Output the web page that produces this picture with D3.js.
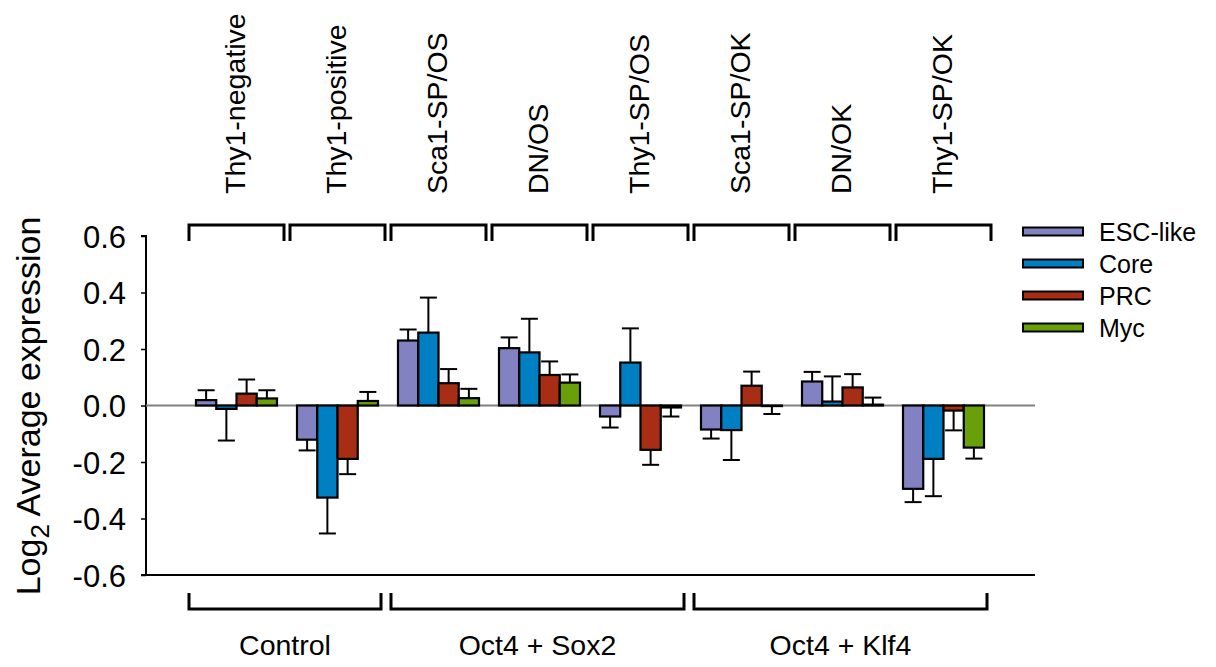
<!DOCTYPE html>
<html>
<head>
<meta charset="utf-8">
<script src="https://cdn.jsdelivr.net/npm/d3@7"></script>
<style>
    body { margin: 0; background: #fff; }
    text { font-family: "Liberation Sans", Arial, sans-serif; fill: #000; }
</style>
</head>
<body>
<svg class="chart" width="1216" height="667"></svg>
<script>

var groups = ["Thy1-negative", "Thy1-positive", "Sca1-SP/OS", "DN/OS", "Thy1-SP/OS", "Sca1-SP/OK", "DN/OK", "Thy1-SP/OK"];
var treatments = ["Control", "Oct4 + Sox2", "Oct4 + Klf4"];
var treatmentSize = [2, 3, 3];
var seriesNames = ["ESC-like", "Core", "PRC", "Myc"];
var seriesColors = ["#8282c2", "#007fc2", "#a72d14", "#69a00a"];

var esc = [0.019, -0.121, 0.230, 0.203, -0.039, -0.085, 0.085, -0.295];
var escErr = [0.035, 0.038, 0.039, 0.038, 0.039, 0.032, 0.034, 0.047];
var core = [-0.012, -0.326, 0.258, 0.188, 0.152, -0.087, 0.014, -0.189];
var coreErr = [0.112, 0.127, 0.124, 0.119, 0.121, 0.106, 0.089, 0.132];
var prc = [0.042, -0.189, 0.079, 0.108, -0.157, 0.070, 0.064, -0.018];
var prcErr = [0.050, 0.054, 0.050, 0.048, 0.053, 0.050, 0.047, 0.070];
var myc = [0.025, 0.016, 0.026, 0.081, -0.007, -0.002, 0.003, -0.149];
var mycErr = [0.029, 0.032, 0.033, 0.029, 0.032, 0.028, 0.025, 0.039];

var yTicks = [-0.6, -0.4, -0.2, 0.0, 0.2, 0.4, 0.6];

var values = [esc, core, prc, myc];
var errors = [escErr, coreErr, prcErr, mycErr];

var rows = [];
groups.forEach(function(g, i) {
    seriesNames.forEach(function(s, j) {
        rows.push({group: g, series: s, index: j, value: values[j][i], err: errors[j][i]});
    });
});

var svg = d3.select(".chart");

var axisLeft = 146;
var axisRight = 1035;

var x0 = d3.scaleBand().domain(groups).range([186, 994]);
var x1 = d3.scaleBand().domain(seriesNames).range([10, x0.bandwidth() - 10]);
var y = d3.scaleLinear().domain([-0.6, 0.6]).range([575, 236]);
var color = d3.scaleOrdinal().domain(seriesNames).range(seriesColors);

// y axis
var yAxis = svg.append("g").attr("transform", "translate(" + axisLeft + ",0)")
    .call(d3.axisLeft(y).tickValues(yTicks).tickSize(5).tickPadding(15).tickFormat(d3.format(".1f")));
yAxis.select(".domain").attr("stroke", "#000").attr("stroke-width", 2).attr("d", "M-5," + y(0.6) + "H0V" + y(-0.6) + "H-5");
yAxis.selectAll(".tick line").attr("stroke", "#000").attr("stroke-width", 1.5);
yAxis.selectAll(".tick text").attr("font-family", null).style("font-size", "31px").attr("dy", "0.36em").text(function(d) {
    return d3.format(".1f")(d).replace("−", "-");
});

// bottom line
svg.append("line").attr("x1", axisLeft).attr("x2", axisRight).attr("y1", y(-0.6)).attr("y2", y(-0.6))
    .attr("stroke", "#000").attr("stroke-width", 2);

// zero line
svg.append("line").attr("x1", axisLeft).attr("x2", axisRight).attr("y1", y(0)).attr("y2", y(0))
    .attr("stroke", "#808080").attr("stroke-width", 2);

// bars
var bar = svg.append("g").selectAll("g").data(rows).enter().append("g").attr("transform", function(d) {
    return "translate(" + (x0(d.group) + x1(d.series)) + ",0)";
});

bar.append("line").attr("x1", x1.bandwidth() / 2).attr("x2", x1.bandwidth() / 2).attr("y1", function(d) {
    return y(d.value);
}).attr("y2", function(d) {
    return y(d.value >= 0 ? d.value + d.err : d.value - d.err);
}).attr("stroke", "#000").attr("stroke-width", 2);

bar.append("line").attr("x1", x1.bandwidth() / 2 - 8.5).attr("x2", x1.bandwidth() / 2 + 8.5).attr("y1", function(d) {
    return y(d.value >= 0 ? d.value + d.err : d.value - d.err);
}).attr("y2", function(d) {
    return y(d.value >= 0 ? d.value + d.err : d.value - d.err);
}).attr("stroke", "#000").attr("stroke-width", 2);

bar.append("rect").attr("x", 0).attr("width", x1.bandwidth()).attr("y", function(d) {
    return Math.min(y(d.value), y(0));
}).attr("height", function(d) {
    return Math.abs(y(d.value) - y(0));
}).attr("fill", function(d) {
    return color(d.series);
}).attr("stroke", "#000").attr("stroke-width", 2.2);

// top brackets and labels
var groupLabel = svg.append("g").selectAll("g").data(groups).enter().append("g");

groupLabel.append("path").attr("d", function(d) {
    var a = x0(d) + 3, b = x0(d) + x0.bandwidth() - 3;
    return "M" + a + ",241V225H" + b + "V241";
}).attr("fill", "none").attr("stroke", "#000").attr("stroke-width", 3);

groupLabel.append("text").attr("transform", function(d) {
    return "translate(" + (x0(d) + x0.bandwidth() / 2) + ",194) rotate(-90)";
}).attr("dy", "0.3em").style("font-size", "28.5px").text(function(d) {
    return d;
});

// bottom brackets and labels
var start = 0;
var spans = treatments.map(function(t, i) {
    var s = {name: t, from: groups[start], to: groups[start + treatmentSize[i] - 1]};
    start += treatmentSize[i];
    return s;
});

var treatmentLabel = svg.append("g").selectAll("g").data(spans).enter().append("g");

treatmentLabel.append("path").attr("d", function(d) {
    var a = x0(d.from) + 3, b = x0(d.to) + x0.bandwidth() - 7;
    return "M" + a + ",593V609H" + b + "V593";
}).attr("fill", "none").attr("stroke", "#000").attr("stroke-width", 3);

treatmentLabel.append("text").attr("x", function(d) {
    return (x0(d.from) + x0(d.to) + x0.bandwidth() - 4) / 2;
}).attr("y", 655).attr("text-anchor", "middle").style("font-size", "28.5px").text(function(d) {
    return d.name;
});

// y title
var title = svg.append("text").attr("transform", "translate(40,406) rotate(-90)").attr("text-anchor", "middle").style("font-size", "34px");
title.append("tspan").text("Log");
title.append("tspan").attr("dy", 9).style("font-size", "26px").text("2");
title.append("tspan").attr("dy", -9).text(" Average expression");

// legend
var legend = svg.append("g").selectAll("g").data(seriesNames).enter().append("g").attr("transform", function(d, i) {
    return "translate(1023," + (231.5 + i * 32) + ")";
});

legend.append("rect").attr("x", 0).attr("y", -4).attr("width", 60).attr("height", 8).attr("fill", function(d) {
    return color(d);
}).attr("stroke", "#000").attr("stroke-width", 2);

legend.append("text").attr("x", 76).attr("dy", "0.36em").style("font-size", "25px").text(function(d) {
    return d;
});

</script>
</body>
</html>
